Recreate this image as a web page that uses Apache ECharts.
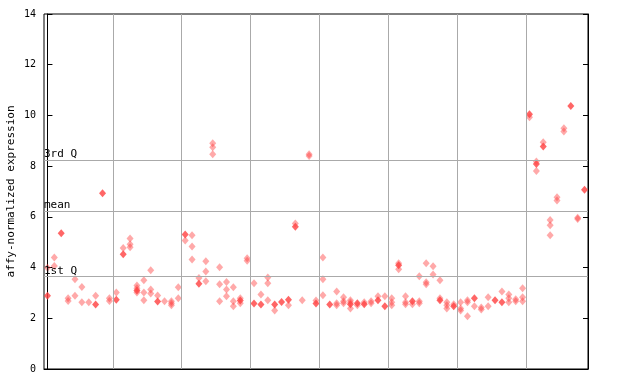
<!DOCTYPE html>
<html>
<head>
<meta charset="utf-8">
<script src="https://cdn.jsdelivr.net/npm/echarts@6/dist/echarts.min.js"></script>
<style>html,body{margin:0;padding:0;background:#fff}#c{width:640px;height:384px}</style>
</head>
<body>
<div id="c"></div>
<script>
// ---- data ----
const nSamples = 79;
const yTicks = [0, 2, 4, 6, 8, 10, 12, 14];
const groupBounds = [9.5, 19.5, 29.5, 39.5, 49.5, 59.5, 69.5];
const refNames = ['3rd Q', 'mean', '1st Q'];
const refValues = [8.24, 6.23, 3.66];

// solid (highlighted) points: sample index / value
const solidIdx = [0, 2, 7, 8, 10, 11, 13, 16, 20, 22, 28, 30, 31, 33, 34, 35, 36, 39, 41, 44, 45, 46, 48, 49, 51, 53, 57, 59, 62, 65, 66, 70, 71, 72, 76, 78];
const solidVal = [2.89, 5.35, 2.54, 6.93, 2.73, 4.53, 3.10, 2.66, 5.30, 3.36, 2.70, 2.58, 2.54, 2.54, 2.64, 2.73, 5.61, 2.58, 2.54, 2.55, 2.59, 2.55, 2.71, 2.47, 4.09, 2.67, 2.71, 2.47, 2.79, 2.71, 2.63, 10.05, 8.08, 8.77, 10.37, 7.07];

// hatched points: sample index / value
const hatchIdx = [
  0, 1, 1, 3, 3, 4, 4, 5, 5, 6, 7, 9, 9, 10, 11, 12, 12, 12,
  13, 13, 13, 14, 14, 14, 15, 15, 15, 16, 17, 18, 18, 18, 19, 19,
  20, 21, 21, 21, 22, 23, 23, 23, 24, 24, 24, 25, 25, 25, 26, 26, 26,
  27, 27, 27, 28, 28, 29, 29, 30, 31, 32, 32, 32, 33, 35, 36, 37, 38, 38,
  39, 40, 40, 40, 42, 42, 42, 43, 43, 43, 44, 44, 44, 45, 46, 47, 47,
  48, 49, 50, 50, 50, 51, 51, 52, 52, 52, 53, 54, 54, 54, 55, 55, 55,
  56, 56, 57, 57, 58, 58, 58, 59, 60, 60, 60, 61, 61, 61, 62, 63, 63,
  64, 64, 66, 67, 67, 67, 68, 68, 69, 69, 69, 70, 71, 71, 72, 73, 73, 73,
  74, 74, 75, 75, 77, 77
];
const hatchVal = [
  3.99, 4.40, 4.06, 2.79, 2.68, 3.54, 2.89, 3.23, 2.63, 2.63, 2.89, 2.79, 2.68, 3.02, 4.77, 5.15, 4.92, 4.80,
  3.29, 3.18, 3.02, 3.50, 3.02, 2.71, 3.89, 3.14, 2.98, 2.90, 2.67, 2.67, 2.59, 2.51, 3.22, 2.79,
  5.07, 5.27, 4.83, 4.32, 3.59, 4.25, 3.85, 3.46, 8.90, 8.75, 8.47, 4.01, 3.34, 2.67, 3.43, 3.14, 2.87,
  3.22, 2.67, 2.47, 2.79, 2.59, 4.37, 4.27, 3.38, 2.94, 3.61, 3.38, 2.71, 2.31, 2.51, 5.74, 2.71, 8.47, 8.40,
  2.70, 4.40, 3.54, 2.91, 3.06, 2.59, 2.51, 2.83, 2.67, 2.59, 2.71, 2.63, 2.39, 2.51, 2.63, 2.67, 2.59,
  2.87, 2.87, 2.79, 2.63, 2.51, 4.17, 3.93, 2.87, 2.63, 2.55, 2.55, 3.66, 2.67, 2.59, 4.17, 3.42, 3.34,
  4.05, 3.73, 3.50, 2.79, 2.63, 2.51, 2.39, 2.55, 2.63, 2.39, 2.31, 2.71, 2.63, 2.08, 2.47, 2.43, 2.35,
  2.83, 2.47, 3.06, 2.94, 2.79, 2.63, 2.75, 2.67, 3.18, 2.83, 2.67, 9.93, 8.18, 7.81, 8.94, 5.88, 5.67, 5.27,
  6.77, 6.65, 9.49, 9.37, 5.96, 5.92
];

// ---- chart ----
const mono = 'DejaVu Sans Mono';
const chart = echarts.init(document.getElementById('c'), null, {renderer: 'canvas'});
const zip = (a, b) => a.map((x, i) => [x, b[i]]);

chart.setOption({
  animation: false,
  backgroundColor: '#fff',
  grid: {left: 44, right: 52, top: 14, bottom: 15, containLabel: false, outerBoundsMode: 'none',
         show: true, borderColor: '#000', borderWidth: 1, backgroundColor: 'transparent'},
  xAxis: {
    type: 'value', min: -0.5, max: nSamples - 0.5,
    axisLine: {show: true, lineStyle: {color: '#000'}},
    axisTick: {show: false}, axisLabel: {show: false}, splitLine: {show: false}
  },
  yAxis: [{
    type: 'value', min: yTicks[0], max: yTicks[yTicks.length - 1], interval: 2,
    name: 'affy-normalized expression', nameLocation: 'middle', nameGap: 27, nameRotate: 90,
    nameMoveOverlap: false,
    nameTextStyle: {fontFamily: mono, fontSize: 11, color: '#000'},
    axisLine: {show: true, lineStyle: {color: '#000'}},
    axisTick: {show: true, inside: true, length: 5, lineStyle: {color: '#000'}},
    axisLabel: {fontFamily: mono, fontSize: 10, color: '#000', margin: 8},
    splitLine: {show: false}
  }, {
    type: 'value', position: 'right', min: yTicks[0], max: yTicks[yTicks.length - 1], interval: 2,
    axisLine: {show: true, lineStyle: {color: '#000'}},
    axisTick: {show: true, inside: true, length: 5, lineStyle: {color: '#000'}},
    axisLabel: {show: false}, splitLine: {show: false}
  }],
  series: [
    {
      type: 'scatter', data: [], silent: true,
      markLine: {
        silent: true, symbol: 'none', animation: false,
        lineStyle: {color: '#aaaaaa', width: 1, type: 'solid'},
        label: {show: false},
        data: groupBounds.map(v => ({xAxis: v}))
      }
    },
    {
      type: 'scatter', data: [], silent: true,
      markLine: {
        silent: true, symbol: 'none', animation: false,
        lineStyle: {color: '#aaaaaa', width: 1, type: 'solid'},
        label: {show: true, position: 'insideStartTop', distance: [0, 0], fontFamily: mono, fontSize: 11, color: '#000', padding: 0},
        data: refValues.map((v, i) => ({yAxis: v, label: {formatter: refNames[i]}}))
      }
    },
    {
      type: 'scatter', name: 'hatched', symbol: 'diamond', symbolSize: [7, 8],
      itemStyle: {color: 'rgba(255,60,60,0.55)'},
      data: zip(hatchIdx, hatchVal)
    },
    {
      type: 'scatter', name: 'solid', symbol: 'diamond', symbolSize: [7, 8],
      itemStyle: {color: '#ff4040'},
      data: zip(solidIdx, solidVal)
    }
  ]
});
</script>
</body>
</html>
